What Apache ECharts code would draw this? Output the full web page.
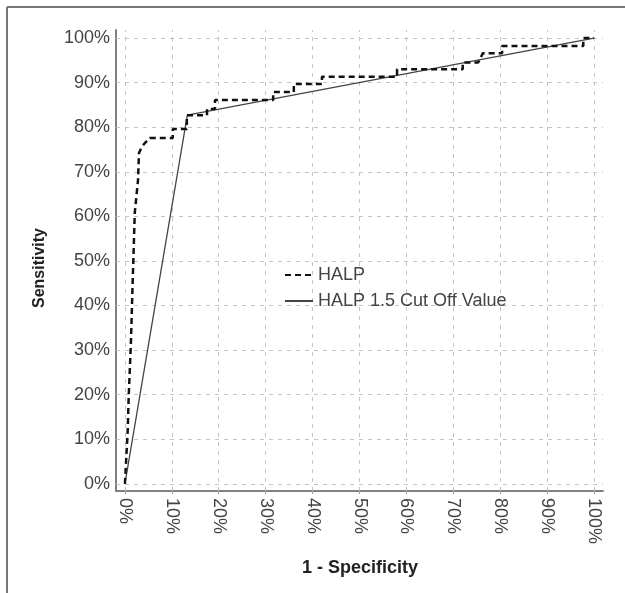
<!DOCTYPE html>
<html><head><meta charset="utf-8">
<script src="https://cdn.jsdelivr.net/npm/echarts@6/dist/echarts.min.js"></script>
<style>html,body{margin:0;padding:0;background:#fff}#c{width:625px;height:593px}</style>
</head><body><div id="c"></div>
<script>
// Tick values (percent)
const xTicks = [0, 10, 20, 30, 40, 50, 60, 70, 80, 90, 100];
const yTicks = [0, 10, 20, 30, 40, 50, 60, 70, 80, 90, 100];

// HALP ROC curve (1 - specificity %, sensitivity %)
const halpX = [0, 0.2, 0.6, 0.8, 1.1, 1.3, 1.6, 1.8, 2.1, 2.8, 3.0, 3.6, 4.3, 5.3, 10.2, 10.2, 13.2, 13.2, 17.5, 17.5, 19.2, 19.2, 31.6, 31.6, 36, 36, 42, 42, 58, 58, 72, 72, 75.3, 76.3, 80.4, 80.4, 97.7, 97.7, 100];
const halpY = [0, 0.4, 12.1, 19.5, 27.1, 32.3, 43.5, 50.2, 60.8, 68.2, 74.2, 75.6, 76.5, 77.6, 77.6, 79.6, 79.6, 82.7, 82.7, 84.1, 84.1, 86.1, 86.1, 87.9, 87.9, 89.7, 89.7, 91.3, 91.3, 93.0, 93.0, 94.5, 94.5, 96.6, 96.6, 98.2, 98.2, 100, 100];

// HALP 1.5 cut off value
const cutX = [0, 13.3, 100];
const cutY = [0, 82.7, 100];

const seriesNames = ['HALP', 'HALP 1.5 Cut Off Value'];

const font = 'Liberation Sans, Arial, sans-serif';
const chart = echarts.init(document.getElementById('c'), null, {renderer: 'canvas'});
const gridStyle = {color: '#c4c4c4', width: 1, type: [4, 5]};
const pct = v => v + '%';

chart.setOption({
  backgroundColor: '#fff',
  animation: false,
  grid: {left: 116, top: 30, right: 22, bottom: 102, containLabel: false},
  xAxis: {
    type: 'value', min: -1.9, max: 101.9,
    axisLine: {show: true, onZero: false, lineStyle: {color: '#808080', width: 2}},
    axisTick: {show: true, length: 3, customValues: xTicks, lineStyle: {color: '#999'}},
    axisLabel: {customValues: xTicks, formatter: pct, rotate: -90, margin: 7, color: '#444', fontSize: 18, fontFamily: font},
    splitLine: {show: false}
  },
  yAxis: {
    type: 'value', min: -1.6, max: 101.8,
    axisLine: {show: true, onZero: false, lineStyle: {color: '#808080', width: 2}},
    axisTick: {show: false},
    axisLabel: {customValues: yTicks, formatter: pct, margin: 6, color: '#444', fontSize: 18, fontFamily: font},
    splitLine: {show: false}
  },
  legend: {
    orient: 'vertical', left: 284, top: 266, itemWidth: 28, itemHeight: 14, itemGap: 8,
    data: seriesNames,
    itemStyle: {opacity: 0},
    textStyle: {fontSize: 18, fontFamily: font, color: '#444', lineHeight: 14, padding: [0, 0, 0, 0]},
    padding: 0, selectedMode: false
  },
  series: [
    {
      type: 'line', name: '_grid', data: [], z: 1, silent: true,
      markLine: {
        silent: true, symbol: ['none', 'none'], z: 1, label: {show: false},
        lineStyle: gridStyle, animation: false,
        data: xTicks.map(v => ({xAxis: v})).concat(yTicks.map(v => ({yAxis: v})))
      }
    },
    {
      type: 'line', name: seriesNames[0], z: 4, symbol: 'none', showSymbol: false,
      data: halpX.map((x, i) => [x, halpY[i]]),
      lineStyle: {color: '#111', width: 2.5, type: [6, 4]},
      itemStyle: {color: '#111'}
    },
    {
      type: 'line', name: seriesNames[1], z: 3, symbol: 'none', showSymbol: false,
      data: cutX.map((x, i) => [x, cutY[i]]),
      lineStyle: {color: '#444', width: 1.3},
      itemStyle: {color: '#444'}
    }
  ],
  graphic: [
    {type: 'line', shape: {x1: 7, y1: 7, x2: 625, y2: 7}, style: {stroke: '#777', lineWidth: 2}},
    {type: 'line', shape: {x1: 7, y1: 7, x2: 7, y2: 593}, style: {stroke: '#777', lineWidth: 2}},
    {type: 'text', x: 40, y: 268, rotation: Math.PI / 2,
      style: {text: 'Sensitivity', font: 'bold 16px ' + font, fill: '#222', align: 'center', verticalAlign: 'middle'}},
    {type: 'text', x: 360, y: 568,
      style: {text: '1 - Specificity', font: 'bold 18px ' + font, fill: '#222', align: 'center', verticalAlign: 'middle'}}
  ]
});
</script>
</body></html>
